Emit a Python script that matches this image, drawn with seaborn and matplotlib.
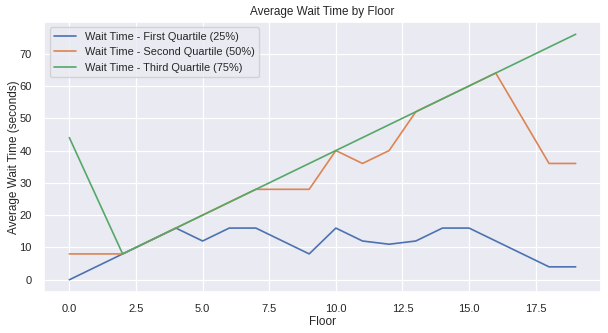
import matplotlib
matplotlib.use("Agg")
import matplotlib.pyplot as plt
import seaborn as sns
import pandas as pd

floors = list(range(20))
q1 = [0, 4, 8, 12, 16, 12, 16, 16, 12, 8, 16, 12, 11, 12, 16, 16, 12, 8, 4, 4]
q2 = [8, 8, 8, 12, 16, 20, 24, 28, 28, 28, 40, 36, 40, 52, 56, 60, 64, 50, 36, 36]
q3 = [44, 26, 8, 12, 16, 20, 24, 28, 32, 36, 40, 44, 48, 52, 56, 60, 64, 68, 72, 76]
labels = ["Wait Time - First Quartile (25%)",
          "Wait Time - Second Quartile (50%)",
          "Wait Time - Third Quartile (75%)"]

df = pd.DataFrame({"Floor": floors * 3,
                   "Value": q1 + q2 + q3,
                   "Series": [labels[0]] * 20 + [labels[1]] * 20 + [labels[2]] * 20})

sns.set_theme(style="darkgrid")
plt.rcParams["font.family"] = ["Liberation Sans", "DejaVu Sans"]
plt.rcParams["grid.linewidth"] = 0.9
fig, ax = plt.subplots(figsize=(6.08, 3.33), dpi=100)
sns.lineplot(data=df, x="Floor", y="Value", hue="Series", ax=ax, linewidth=1.2)
ax.set_title("Average Wait Time by Floor", fontsize=8.5, pad=5)
ax.set_xlabel("Floor", fontsize=8.5, labelpad=1.5)
ax.set_ylabel("Average Wait Time (seconds)", fontsize=8.5, labelpad=0)
ax.tick_params(axis="x", labelsize=8, pad=2.5)
ax.tick_params(axis="y", labelsize=8, pad=2.7)
leg = ax.legend(title=None, fontsize=7.9, loc="upper left")
fig.subplots_adjust(left=0.0724, right=0.9885, top=0.934, bottom=0.123)
fig.savefig("out.png", dpi=100)
